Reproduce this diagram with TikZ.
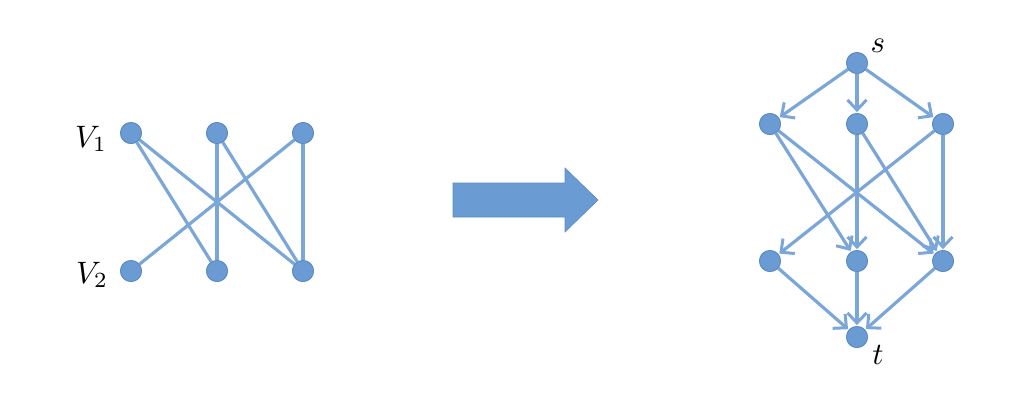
\documentclass[tikz,border=0pt]{standalone}
\usetikzlibrary{arrows.meta}
\definecolor{nodefill}{HTML}{6A9BD3}
\definecolor{nodeedge}{HTML}{5A8AC4}
\definecolor{edgecol}{HTML}{7BA6D8}
\newcommand{\biglabel}[1]{\scalebox{3.1}{$#1$}}
\begin{document}
\begin{tikzpicture}[x=1pt,y=-1pt,
  vert/.style={circle,fill=nodefill,draw=nodeedge,line width=0.8pt,minimum size=21pt,inner sep=0pt},
  link/.style={draw=edgecol,line width=3.2pt},
  dlink/.style={link,-{Straight Barb[length=10pt,width=19pt,line width=3pt]},shorten >=1pt},
  lbl/.style={inner sep=0pt}]
\useasboundingbox (0,0) rectangle (1010,416);
% bipartite graph
\node[vert] (a1) at (131,133) {};
\node[vert] (a2) at (217,133) {};
\node[vert] (a3) at (303,133) {};
\node[vert] (b1) at (131,271) {};
\node[vert] (b2) at (217,271) {};
\node[vert] (b3) at (303,271) {};
\draw[link] (a1) -- (b2);
\draw[link] (a1) -- (b3);
\draw[link] (a2) -- (b2);
\draw[link] (a2) -- (b3);
\draw[link] (a3) -- (b1);
\draw[link] (a3) -- (b3);
\foreach \n in {a1,a2,a3,b1,b2,b3} \node[vert] at (\n) {};
\node[lbl] (l1) at (91,139) {\biglabel{V_1}};
\node[lbl] (l2) at (92,275) {\biglabel{V_2}};
% block arrow
\fill[nodefill,draw=nodeedge,line width=0.6pt] (453,183) -- (565,183) -- (565,168) -- (598,200) -- (565,232) -- (565,217) -- (453,217) -- cycle;
% flow network
\node[vert] (s) at (857,63) {};
\node[vert] (u1) at (770,124) {};
\node[vert] (u2) at (857,124) {};
\node[vert] (u3) at (943,124) {};
\node[vert] (w1) at (770,261) {};
\node[vert] (w2) at (857,261) {};
\node[vert] (w3) at (943,261) {};
\node[vert] (t) at (857,337) {};
\draw[dlink] (s) -- (u1);
\draw[dlink] (s) -- (u2);
\draw[dlink] (s) -- (u3);
\draw[dlink] (u1) -- (w2);
\draw[dlink] (u1) -- (w3);
\draw[dlink] (u2) -- (w2);
\draw[dlink] (u2) -- (w3);
\draw[dlink] (u3) -- (w1);
\draw[dlink] (u3) -- (w3);
\draw[dlink] (w1) -- (t);
\draw[dlink] (w2) -- (t);
\draw[dlink] (w3) -- (t);
\foreach \n in {s,u1,u2,u3,w1,w2,w3,t} \node[vert] at (\n) {};
\node[lbl] (ls) at (878,46) {\biglabel{s}};
\node[lbl] (lt) at (878,355) {\biglabel{t}};
\end{tikzpicture}
\end{document}
